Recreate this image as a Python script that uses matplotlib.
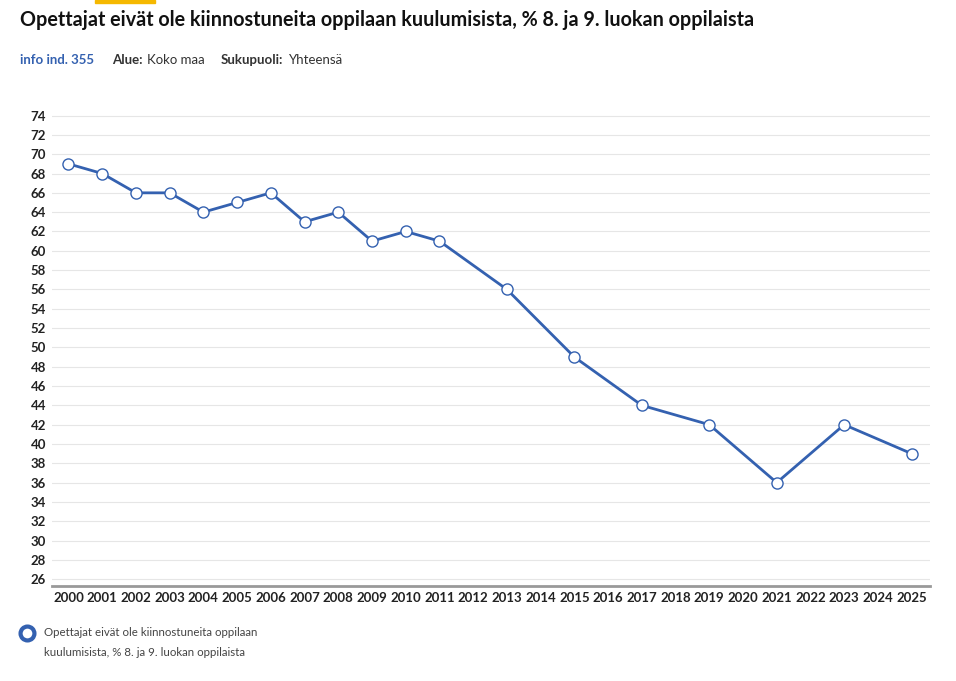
import matplotlib
matplotlib.use("Agg")
from matplotlib import pyplot as plt
from matplotlib.patches import Rectangle

plt.rcParams['font.family'] = ['Lato', 'DejaVu Sans']

years = [2000, 2001, 2002, 2003, 2004, 2005, 2006, 2007, 2008, 2009, 2010,
         2011, 2013, 2015, 2017, 2019, 2021, 2023, 2025]
values = [69, 68, 66, 66, 64, 65, 66, 63, 64, 61, 62, 61, 56, 49, 44, 42, 36, 42, 39]
xticks = list(range(2000, 2026))
yticks = list(range(26, 75, 2))
label = "Opettajat eivät ole kiinnostuneita oppilaan kuulumisista, % 8. ja 9. luokan oppilaista"

blue = '#3461b0'
fig = plt.figure(figsize=(9.56, 6.81), dpi=100)
ax = fig.add_axes([0.054, 0.1395, 0.919, 0.705])

ax.plot(years, values, color=blue, lw=2, marker='o', ms=8,
        mfc='white', mec=blue, mew=1, zorder=3)
ax.set_xlim(1999.5, 2025.55)
ax.set_ylim(25.3, 75)
ax.set_xticks(xticks)
ax.set_xticklabels([str(x) for x in xticks], fontsize=9.5, fontweight='bold', color='#222222')
ax.set_yticks(yticks)
ax.set_yticklabels([str(y) for y in yticks], fontsize=9.5, fontweight='bold', color='#222222')
ax.grid(axis='y', color='#e6e6e6', lw=0.8)
ax.tick_params(length=0, pad=4)
for s in ['top', 'right', 'left']:
    ax.spines[s].set_visible(False)
ax.spines['bottom'].set_color('#999999')
ax.spines['bottom'].set_linewidth(2)

fig.patches.append(Rectangle((95/956, 1-3/681), 60/956, 3/681, transform=fig.transFigure,
                             color='#f5b800'))
fig.text(20/956, 1-20/681, label, fontsize=14.2, fontweight='bold', va='center', color='#111111')
fig.text(20/956, 1-60/681, "info ind. 355", fontsize=9.5, fontweight='bold', color=blue, va='center')
fig.text(112/956, 1-60/681, "Alue:", fontsize=9.5, fontweight='bold', color='#333333', va='center')
fig.text(147/956, 1-60/681, "Koko maa", fontsize=9.5, color='#333333', va='center')
fig.text(221/956, 1-60/681, "Sukupuoli:", fontsize=9.5, fontweight='bold', color='#333333', va='center')
fig.text(289/956, 1-60/681, "Yhteensä", fontsize=9.5, color='#333333', va='center')

fig.lines.append(plt.Line2D([27/956], [1-633/681], transform=fig.transFigure, marker='o',
                            ms=10, mfc='white', mec=blue, mew=3))
fig.text(44/956, 1-633/681, "Opettajat eivät ole kiinnostuneita oppilaan", fontsize=8.3,
         color='#444444', va='center')
fig.text(44/956, 1-652/681, "kuulumisista, % 8. ja 9. luokan oppilaista", fontsize=8.3,
         color='#444444', va='center')

fig.savefig('out.png', dpi=100)
